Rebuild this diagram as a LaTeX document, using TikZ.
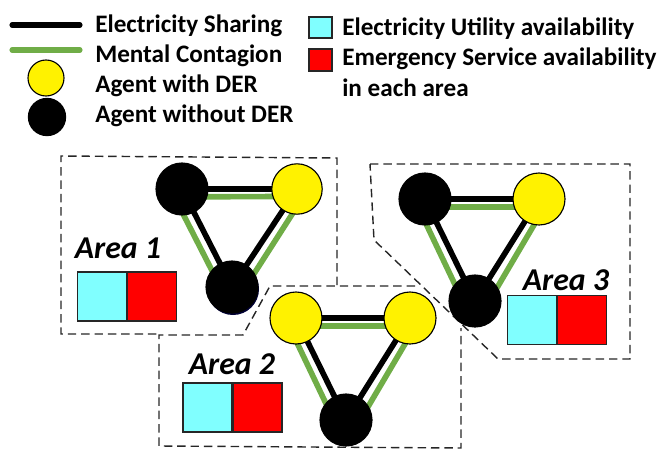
\documentclass[tikz,border=0pt]{standalone}
\usepackage{fontspec}
\setmainfont{Carlito}
\usetikzlibrary{backgrounds, positioning}
\definecolor{contagion}{RGB}{112,173,71}
\definecolor{utilcolor}{RGB}{128,255,255}
\tikzset{
    agentwith/.style={circle, draw=black, line width=0.8pt, fill=yellow, minimum size=1.3cm, inner sep=0pt},
    agentwithout/.style={circle, draw=black, line width=0.8pt, fill=black, minimum size=1.3cm, inner sep=0pt},
    shareline/.style={draw=black, line width=4pt, shorten <=-3pt, shorten >=-3pt},
    contagionline/.style={draw=contagion, line width=4pt, shorten <=-3pt, shorten >=-3pt},
    arealine/.style={draw=black!85, line width=1pt, dash pattern=on 6pt off 3.5pt},
    utilbox/.style={rectangle, draw=black!85, line width=0.9pt, fill=utilcolor, minimum width=1.22cm, minimum height=1.22cm, inner sep=0pt},
    servbox/.style={rectangle, draw=black!85, line width=0.9pt, fill=red, minimum width=1.22cm, minimum height=1.22cm, inner sep=0pt},
    legendtext/.style={anchor=base west, font=\fontsize{17.9}{20}\selectfont\bfseries, inner sep=0pt},
    arealabel/.style={font=\fontsize{22.6}{24}\selectfont\bfseries\itshape, inner sep=0pt},
}
\begin{document}
\begin{tikzpicture}[x=0.025cm, y=-0.025cm]
\useasboundingbox (0,0) rectangle (664,460);

% legend
\coordinate (shareA) at (12,25);
\coordinate (shareB) at (80,25);
\coordinate (mentalA) at (12,50);
\coordinate (mentalB) at (80,50);
\draw[black, line width=3.6pt, line cap=round] (shareA) -- (shareB);
\draw[contagion, line width=3.6pt, line cap=round] (mentalA) -- (mentalB);
\node[agentwith, minimum size=0.9cm] (legendWith) at (46,78) {};
\node[agentwithout, minimum size=0.93cm] (legendWithout) at (47,117) {};
\node[legendtext] (textShare) at (95,32) {Electricity Sharing};
\node[legendtext] (textMental) at (95,62) {Mental Contagion};
\node[legendtext] (textWith) at (95,92) {Agent with DER};
\node[legendtext] (textWithout) at (95,122) {Agent without DER};
\node[utilbox, minimum width=0.57cm, minimum height=0.53cm] (legendUtil) at (320.5,27.5) {};
\node[servbox, minimum width=0.57cm, minimum height=0.55cm] (legendServ) at (320.5,60) {};
\node[legendtext] (textUtil) at (342,35) {Electricity Utility availability};
\node[legendtext] (textServ) at (342,65) {Emergency Service availability};
\node[legendtext] (textEach) at (342,96) {in each area};

% area outlines
\draw[arealine] (337,285) -- (337,158) -- (61,156) -- (61,334) -- (159,334);
\draw[arealine] (415,286) -- (270,286) -- (243,335) -- (159,335) -- (159,446) -- (461,448) -- (461,328);
\draw[arealine] (370,164) -- (630,164) -- (630,359) -- (498,359) -- (374,240) -- cycle;

% area 1
\node[circle, fill=black!80!blue, minimum size=1.3cm, inner sep=0pt] (shadeOne) at (233,289) {};
\node[agentwithout] (oneA) at (182,189) {};
\node[agentwith, minimum size=1.26cm] (oneB) at (297,189) {};
\node[agentwithout] (oneC) at (232,287) {};
\begin{pgfonlayer}{background}
\draw[shareline] (oneA) -- (oneB);
\draw[shareline] (oneA) -- (oneC);
\draw[shareline] (oneB) -- (oneC);
\draw[contagionline] (oneA.-17) -- (oneB.197);
\draw[contagionline] (oneA.-86) -- (oneC.140);
\draw[contagionline] (oneB.-101) -- (oneC.32);
\end{pgfonlayer}
\node[arealabel] (labelOne) at (118,248) {Area 1};
\node[utilbox] (utilOne) at (102,296.5) {};
\node[servbox, right=0pt of utilOne] (servOne) {};

% area 2
\node[agentwith] (twoA) at (296,318) {};
\node[agentwith] (twoB) at (410,318) {};
\node[agentwithout] (twoC) at (346,420) {};
\begin{pgfonlayer}{background}
\draw[shareline] (twoA) -- (twoB);
\draw[shareline] (twoA) -- (twoC);
\draw[shareline] (twoB) -- (twoC);
\draw[contagionline] (twoA.-17) -- (twoB.197);
\draw[contagionline] (twoA.-86) -- (twoC.140);
\draw[contagionline] (twoB.-101) -- (twoC.32);
\end{pgfonlayer}
\node[arealabel] (labelTwo) at (232,364) {Area 2};
\node[utilbox] (utilTwo) at (207.5,407.5) {};
\node[servbox, right=0pt of utilTwo] (servTwo) {};

% area 3
\node[agentwithout] (threeA) at (425,199) {};
\node[agentwith] (threeB) at (539,199) {};
\node[agentwithout] (threeC) at (475,301) {};
\begin{pgfonlayer}{background}
\draw[shareline] (threeA) -- (threeB);
\draw[shareline] (threeA) -- (threeC);
\draw[shareline] (threeB) -- (threeC);
\draw[contagionline] (threeA.-17) -- (threeB.197);
\draw[contagionline] (threeA.-86) -- (threeC.140);
\draw[contagionline] (threeB.-101) -- (threeC.32);
\end{pgfonlayer}
\node[arealabel] (labelThree) at (566,280) {Area 3};
\node[utilbox] (utilThree) at (532,320) {};
\node[servbox, right=0pt of utilThree] (servThree) {};
\end{tikzpicture}
\end{document}
